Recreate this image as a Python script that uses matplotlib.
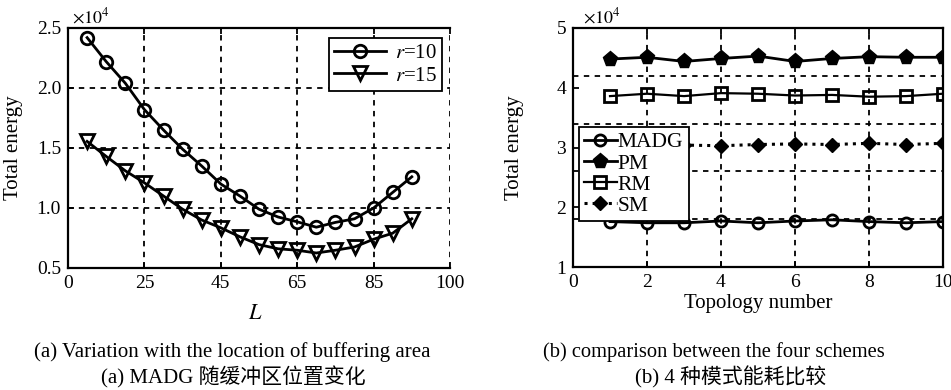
import matplotlib
matplotlib.use('Agg')
import matplotlib.pyplot as plt
from matplotlib.ticker import FixedLocator

plt.rcParams['font.family'] = ['Liberation Serif', 'Noto Sans CJK SC']
plt.rcParams['mathtext.fontset'] = 'stix'
plt.rcParams['font.size'] = 14

# (a) energy vs. buffer location (x10^4)
L_pos = [5, 10, 15, 20, 25, 30, 35, 40, 45, 50, 55, 60, 65, 70, 75, 80, 85, 90]
L_tick_pos = [0, 20, 40, 60, 80, 100]
L_tick_labels = ['0', '25', '45', '65', '85', '100']
energy_r10 = [2.42, 2.22, 2.04, 1.82, 1.65, 1.49, 1.35, 1.20, 1.10, 0.99,
              0.925, 0.885, 0.84, 0.88, 0.91, 1.00, 1.13, 1.26]
energy_r15 = [1.555, 1.43, 1.31, 1.21, 1.10, 0.99, 0.90, 0.835, 0.76, 0.695,
              0.66, 0.648, 0.625, 0.648, 0.675, 0.74, 0.79, 0.91]

# (b) four schemes over 10 topologies (x10^4)
topology = [1, 2, 3, 4, 5, 6, 7, 8, 9, 10]
madg = [1.76, 1.74, 1.74, 1.77, 1.74, 1.77, 1.79, 1.76, 1.74, 1.76]
pm = [4.48, 4.51, 4.44, 4.49, 4.53, 4.44, 4.49, 4.52, 4.51, 4.51]
rm = [3.86, 3.90, 3.86, 3.91, 3.90, 3.87, 3.88, 3.85, 3.86, 3.90]
sm = [3.05, 3.05, 3.04, 3.03, 3.05, 3.06, 3.05, 3.07, 3.05, 3.07]

W, H = 951, 390
fig = plt.figure(figsize=(W / 100, H / 100), dpi=100)

def box(x0, y0, x1, y1):
    return [x0 / W, 1 - y1 / H, (x1 - x0) / W, (y1 - y0) / H]

grid_kw = dict(color='black', linestyle=(0, (3, 3)), linewidth=1.3)

def style(ax):
    ax.tick_params(direction='in', length=4, width=1.3, top=True,
                   labelsize=14, pad=5)
    for s in ax.spines.values():
        s.set_linewidth(1.6)

# ---- (a)
ax = fig.add_axes(box(68, 28, 450, 268))
ax.plot(L_pos, energy_r10, '-o', color='black', lw=2.0, ms=9,
        mfc='none', mew=2.0, label=r'$r$=10', zorder=3)
ax.plot(L_pos, energy_r15, '-v', color='black', lw=2.0, ms=10,
        mfc='none', mew=2.0, label=r'$r$=15', zorder=3)
ax.set_xlim(0, 100)
ax.set_ylim(0.5, 2.5)
ax.set_xticks(L_tick_pos)
ax.set_xticklabels(L_tick_labels)
ax.set_yticks([0.5, 1.0, 1.5, 2.0, 2.5])
ax.set_yticklabels(['0.5', '1.0', '1.5', '2.0', '2.5'])
ax.grid(True, **grid_kw)
ax.spines['right'].set_visible(False)
style(ax)
ax.tick_params(right=False)
ax.set_xlabel(r'$L$', fontsize=16)
ax.xaxis.set_label_coords(0.49, -0.155)
ax.set_ylabel('Total energy', fontsize=15)
ax.yaxis.set_label_coords(-0.118, 0.5)
ax.text(0.01, 1.005, r'$\times10^4$', transform=ax.transAxes, fontsize=13,
        va='bottom', ha='left')
leg = ax.legend(loc='upper right', bbox_to_anchor=(0.979, 0.958), fontsize=15,
                handlelength=2.5, handletextpad=0.4, borderpad=0.25,
                labelspacing=0.15, borderaxespad=0, fancybox=False,
                edgecolor='black', framealpha=1)
leg.get_frame().set_linewidth(1.3)

# ---- (b)
ax = fig.add_axes(box(573, 28, 943, 267))
ax.plot(topology, madg, '-o', color='black', lw=2.0, ms=8, mfc='none',
        mew=2.0, label='MADG', zorder=3)
ax.plot(topology, pm, '-p', color='black', lw=2.0, ms=11, label='PM', zorder=3)
ax.plot(topology, rm, '-s', color='black', lw=1.6, ms=9, mfc='none',
        mew=2.0, label='RM', zorder=3)
ax.plot(topology, sm, ':D', color='black', lw=2.2, ms=7, label='SM', zorder=3)
ax.set_xlim(0, 10)
ax.set_ylim(1, 5)
ax.set_xticks([0, 2, 4, 6, 8, 10])
ax.set_yticks([1, 2, 3, 4, 5])
ax.yaxis.set_minor_locator(FixedLocator([1.8, 2.6, 3.4, 4.2]))
ax.tick_params(axis='y', which='minor', length=0)
ax.grid(True, axis='x', **grid_kw)
ax.grid(True, axis='y', which='minor', **grid_kw)
style(ax)
ax.set_xlabel('Topology number', fontsize=15)
ax.xaxis.set_label_coords(0.5, -0.115)
ax.set_ylabel('Total energy', fontsize=15)
ax.yaxis.set_label_coords(-0.132, 0.5)
ax.text(0.027, 1.005, r'$\times10^4$', transform=ax.transAxes, fontsize=13,
        va='bottom', ha='left')
leg = ax.legend(loc='upper left', bbox_to_anchor=(0.016, 0.586), fontsize=15.5,
                handlelength=1.5, handletextpad=0.05, borderpad=0.25,
                labelspacing=0.05, borderaxespad=0, fancybox=False,
                edgecolor='black', framealpha=1)
leg.get_frame().set_linewidth(1.3)
leg.set_zorder(5)

# captions
fig.text(232 / W, 1 - 352 / H, '(a) Variation with the location of buffering area',
         ha='center', va='center', fontsize=15)
fig.text(233 / W, 1 - 377 / H, '(a) MADG 随缓冲区位置变化',
         ha='center', va='center', fontsize=15)
fig.text(714 / W, 1 - 352 / H, '(b) comparison between the four schemes',
         ha='center', va='center', fontsize=14.8)
fig.text(731 / W, 1 - 377 / H, '(b) 4 种模式能耗比较',
         ha='center', va='center', fontsize=15)

fig.savefig('out.png', dpi=100)
